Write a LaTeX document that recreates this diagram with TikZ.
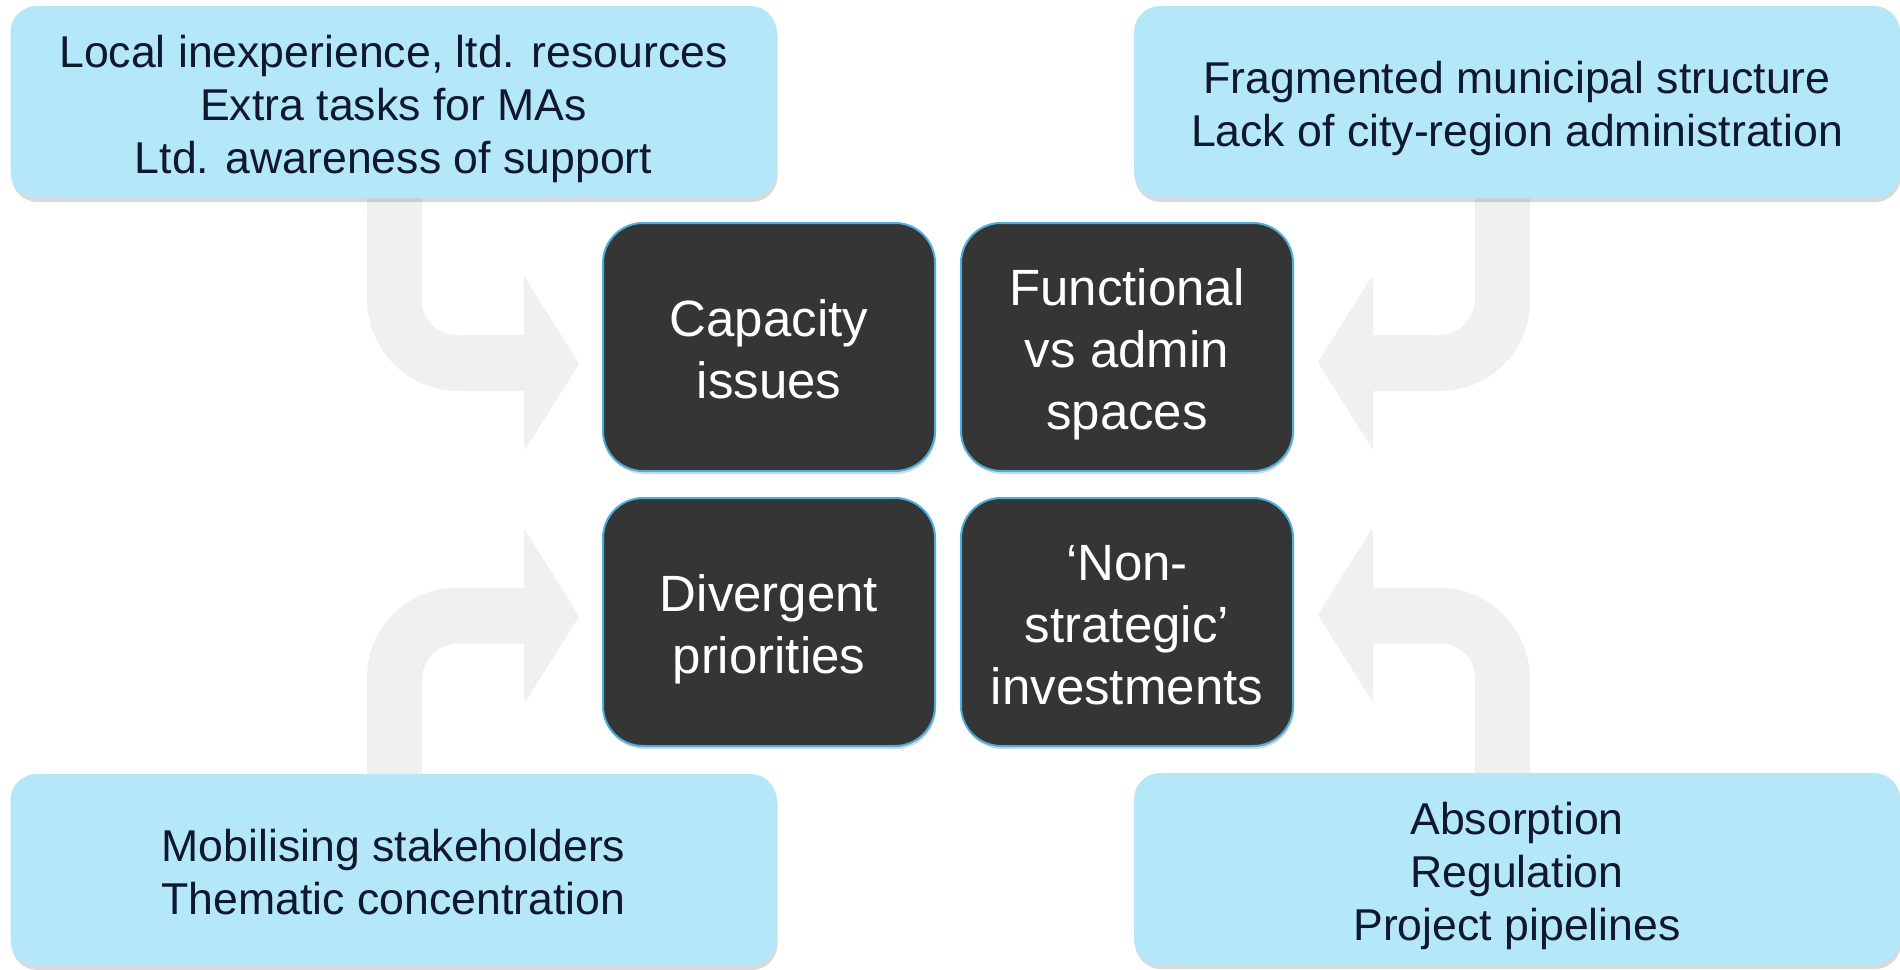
\documentclass[tikz,border=0pt]{standalone}
\usepackage{fontspec}
\setmainfont{Liberation Sans}
\usepackage{tikz}
\usetikzlibrary{shapes,positioning,shadows}
\definecolor{paleblue}{RGB}{180,231,247}
\definecolor{navytext}{RGB}{16,24,48}
\definecolor{darkbox}{RGB}{53,53,53}
\definecolor{edgeblue}{RGB}{78,175,222}
\definecolor{arrowgrey}{RGB}{240,240,240}
\newcommand{\topstrut}{\rule{0pt}{1.03em}}
\newcommand{\botstrut}{\rule[-0.22em]{0pt}{0pt}}
\tikzset{bentarrow/.pic={
    \fill[arrowgrey, drop shadow={shadow xshift=0.5pt, shadow yshift=-1pt, opacity=0.12}]
      (-211,-175) -- (-211,-63) .. controls (-211,-13.3) and (-170.7,27) .. (-121,27)
      -- (-54,27) -- (-54,86) -- (0,0) -- (-54,-86) -- (-54,-27) -- (-121,-27)
      .. controls (-140.9,-27) and (-157,-43.1) .. (-157,-63) -- (-157,-175) -- cycle;
}}

\begin{document}
\begin{tikzpicture}[x=0.5pt,y=-0.5pt]
    \tikzstyle{issue}=[rectangle, draw=edgeblue, line width=1pt, fill=darkbox, rounded corners=20pt, minimum width=166pt, minimum height=124pt, inner sep=0pt, align=center, text=white, font=\fontsize{25.5}{31}\selectfont, execute at end node=\botstrut, drop shadow={shadow xshift=0.5pt, shadow yshift=-1.5pt, opacity=0.3}]
    \tikzstyle{cause}=[rectangle, fill=paleblue, rounded corners=13pt, minimum width=383pt, minimum height=96pt, inner sep=0pt, align=center, text=navytext, font=\fontsize{22.3}{26.5}\selectfont, execute at end node=\botstrut, drop shadow={shadow xshift=0.5pt, shadow yshift=-2pt, opacity=0.3}]
    \useasboundingbox (0,0) rectangle (1900,969);
    \node[issue] (cap) at (769,347) {\topstrut Capacity\\issues};
    \node[issue, right=12pt of cap] (func) {\topstrut Functional\\vs admin\\spaces};
    \node[issue, below=12.5pt of cap] (div) {\topstrut Divergent\\priorities};
    \node[issue, below=12.5pt of func] (nonstr) {\topstrut ‘Non-\\strategic’\\investments};
    \path ([shift={(-24,15)}]cap.west) pic {bentarrow};
    \path ([shift={(24,15)}]func.east) pic[xscale=-1] {bentarrow};
    \path ([shift={(-24,-7.5)}]div.west) pic[yscale=-1] {bentarrow};
    \path ([shift={(24,-7.5)}]nonstr.east) pic[xscale=-1,yscale=-1] {bentarrow};
    \node[cause] (inexp) at (393.5,102) {\topstrut Local inexperience, ltd. resources\\Extra tasks for MAs\\Ltd. awareness of support};
    \node[cause] (fragm) at (1517,102) {\topstrut Fragmented municipal structure\\Lack of city-region administration};
    \node[cause] (mobil) at (393.5,870) {\topstrut Mobilising stakeholders\\Thematic concentration};
    \node[cause] (absorp) at (1517,869) {\topstrut Absorption\\Regulation\\Project pipelines};
\end{tikzpicture}
\end{document}
